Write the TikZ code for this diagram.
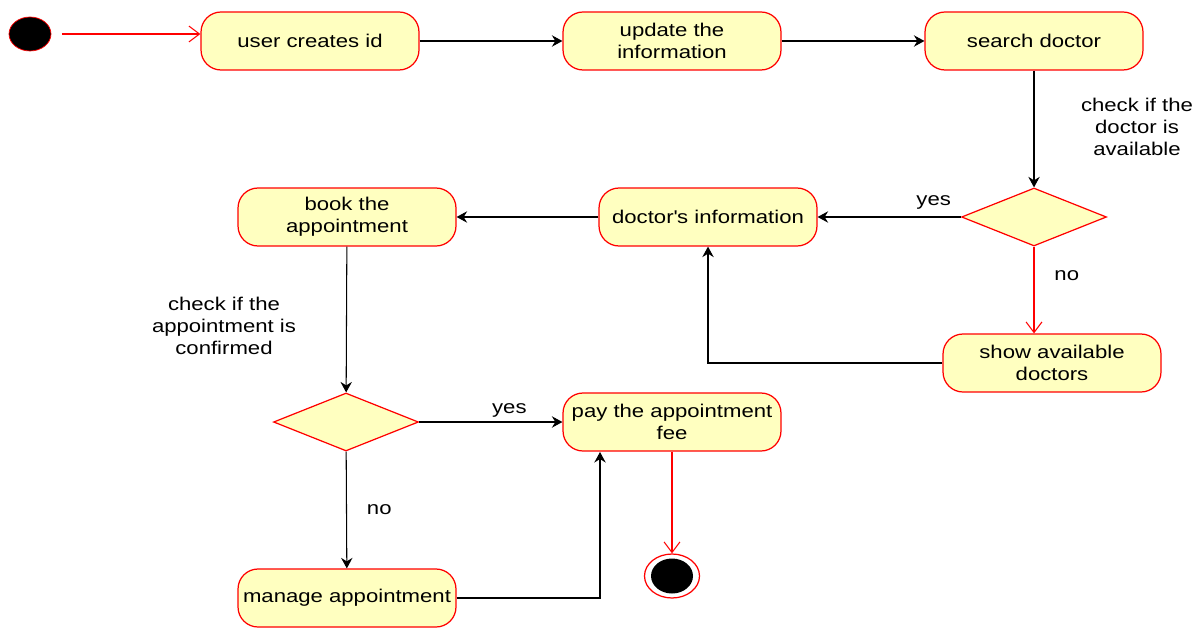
\documentclass[tikz,border=0pt]{standalone}
\usepackage{fontspec}
\setmainfont{Liberation Sans}[FakeStretch=1.2]
\usepackage{tikz}
\usetikzlibrary{shapes.geometric,arrows.meta}
\definecolor{yelo}{HTML}{FFFFC0}

\begin{document}
\begin{tikzpicture}[x=0.02cm,y=-0.02cm,
  font=\fontsize{10.5pt}{12.5pt}\selectfont,
  act/.style={shape=rectangle,rounded corners=0.4cm,draw=red,fill=yelo,line width=0.7pt,
    minimum width=4.36cm,minimum height=1.16cm,align=center,inner sep=1pt},
  dec/.style={shape=diamond,draw=red,fill=yelo,line width=0.7pt,aspect=2.5,
    minimum width=2.9cm,minimum height=1.16cm,inner sep=0pt},
  blk/.style={draw=black,line width=0.6pt,-{Stealth[length=6pt,width=6.5pt,inset=2pt]}},
  rd/.style={draw=red,line width=0.6pt,-{Straight Barb[length=6pt,width=9pt]}}]
\useasboundingbox (0,0) rectangle (1202,628);
\node[shape=ellipse,draw=red,fill=black,minimum width=0.84cm,minimum height=0.68cm] (A) at (30,34) {};
\node[act] (B) at (310,41) {user creates id};
\node[act] (C) at (672,41) {update the\\information};
\node[act] (D) at (1034,41) {search doctor};
\node[align=center] (L1) at (1137,127) {check if the\\doctor is\\available};
\node[dec] (E) at (1034,217) {};
\node[act] (F) at (708,217) {doctor\textquotesingle s information};
\node[act] (G) at (1052,363) {show available\\doctors};
\node[act] (H) at (347,217) {book the\\appointment};
\node[align=center] (L2) at (224,326) {check if the\\appointment is\\confirmed};
\node[dec] (I) at (346,422) {};
\node[act] (J) at (672,422) {pay the appointment\\fee};
\node[act] (K) at (347,598) {manage appointment};
\node[shape=ellipse,draw=red,fill=white,line width=0.7pt,minimum width=1.1cm,minimum height=0.88cm] (M) at (672,576) {};
\node[shape=ellipse,fill=black,minimum width=0.84cm,minimum height=0.7cm] (N) at (M) {};
\coordinate (P) at (600,452);

\draw [rd] ([xshift=6pt]A.east) -- (A -| B.west);
\path [blk] (B) edge (C);
\path [blk] (C) edge (D);
\path [blk] (D) edge (E);
\path [blk] (E) edge node[pos=0.19,above=1pt] {yes} (F);
\draw [rd] (E.south) -- node[pos=0.33,right=8pt,text=black] {no} (E.south |- G.north);
\draw [blk] (G.west) -| (F.south);
\path [blk] (F) edge (H);
\path [blk] (H) edge (I);
\path [blk] (I) edge node[pos=0.63,above=-1pt] {yes} (J);
\path [blk] (I) edge node[right=8pt] {no} (K);
\draw [blk] (K.east) -| (P);
\draw [rd] (J) -- (M);
\end{tikzpicture}
\end{document}
